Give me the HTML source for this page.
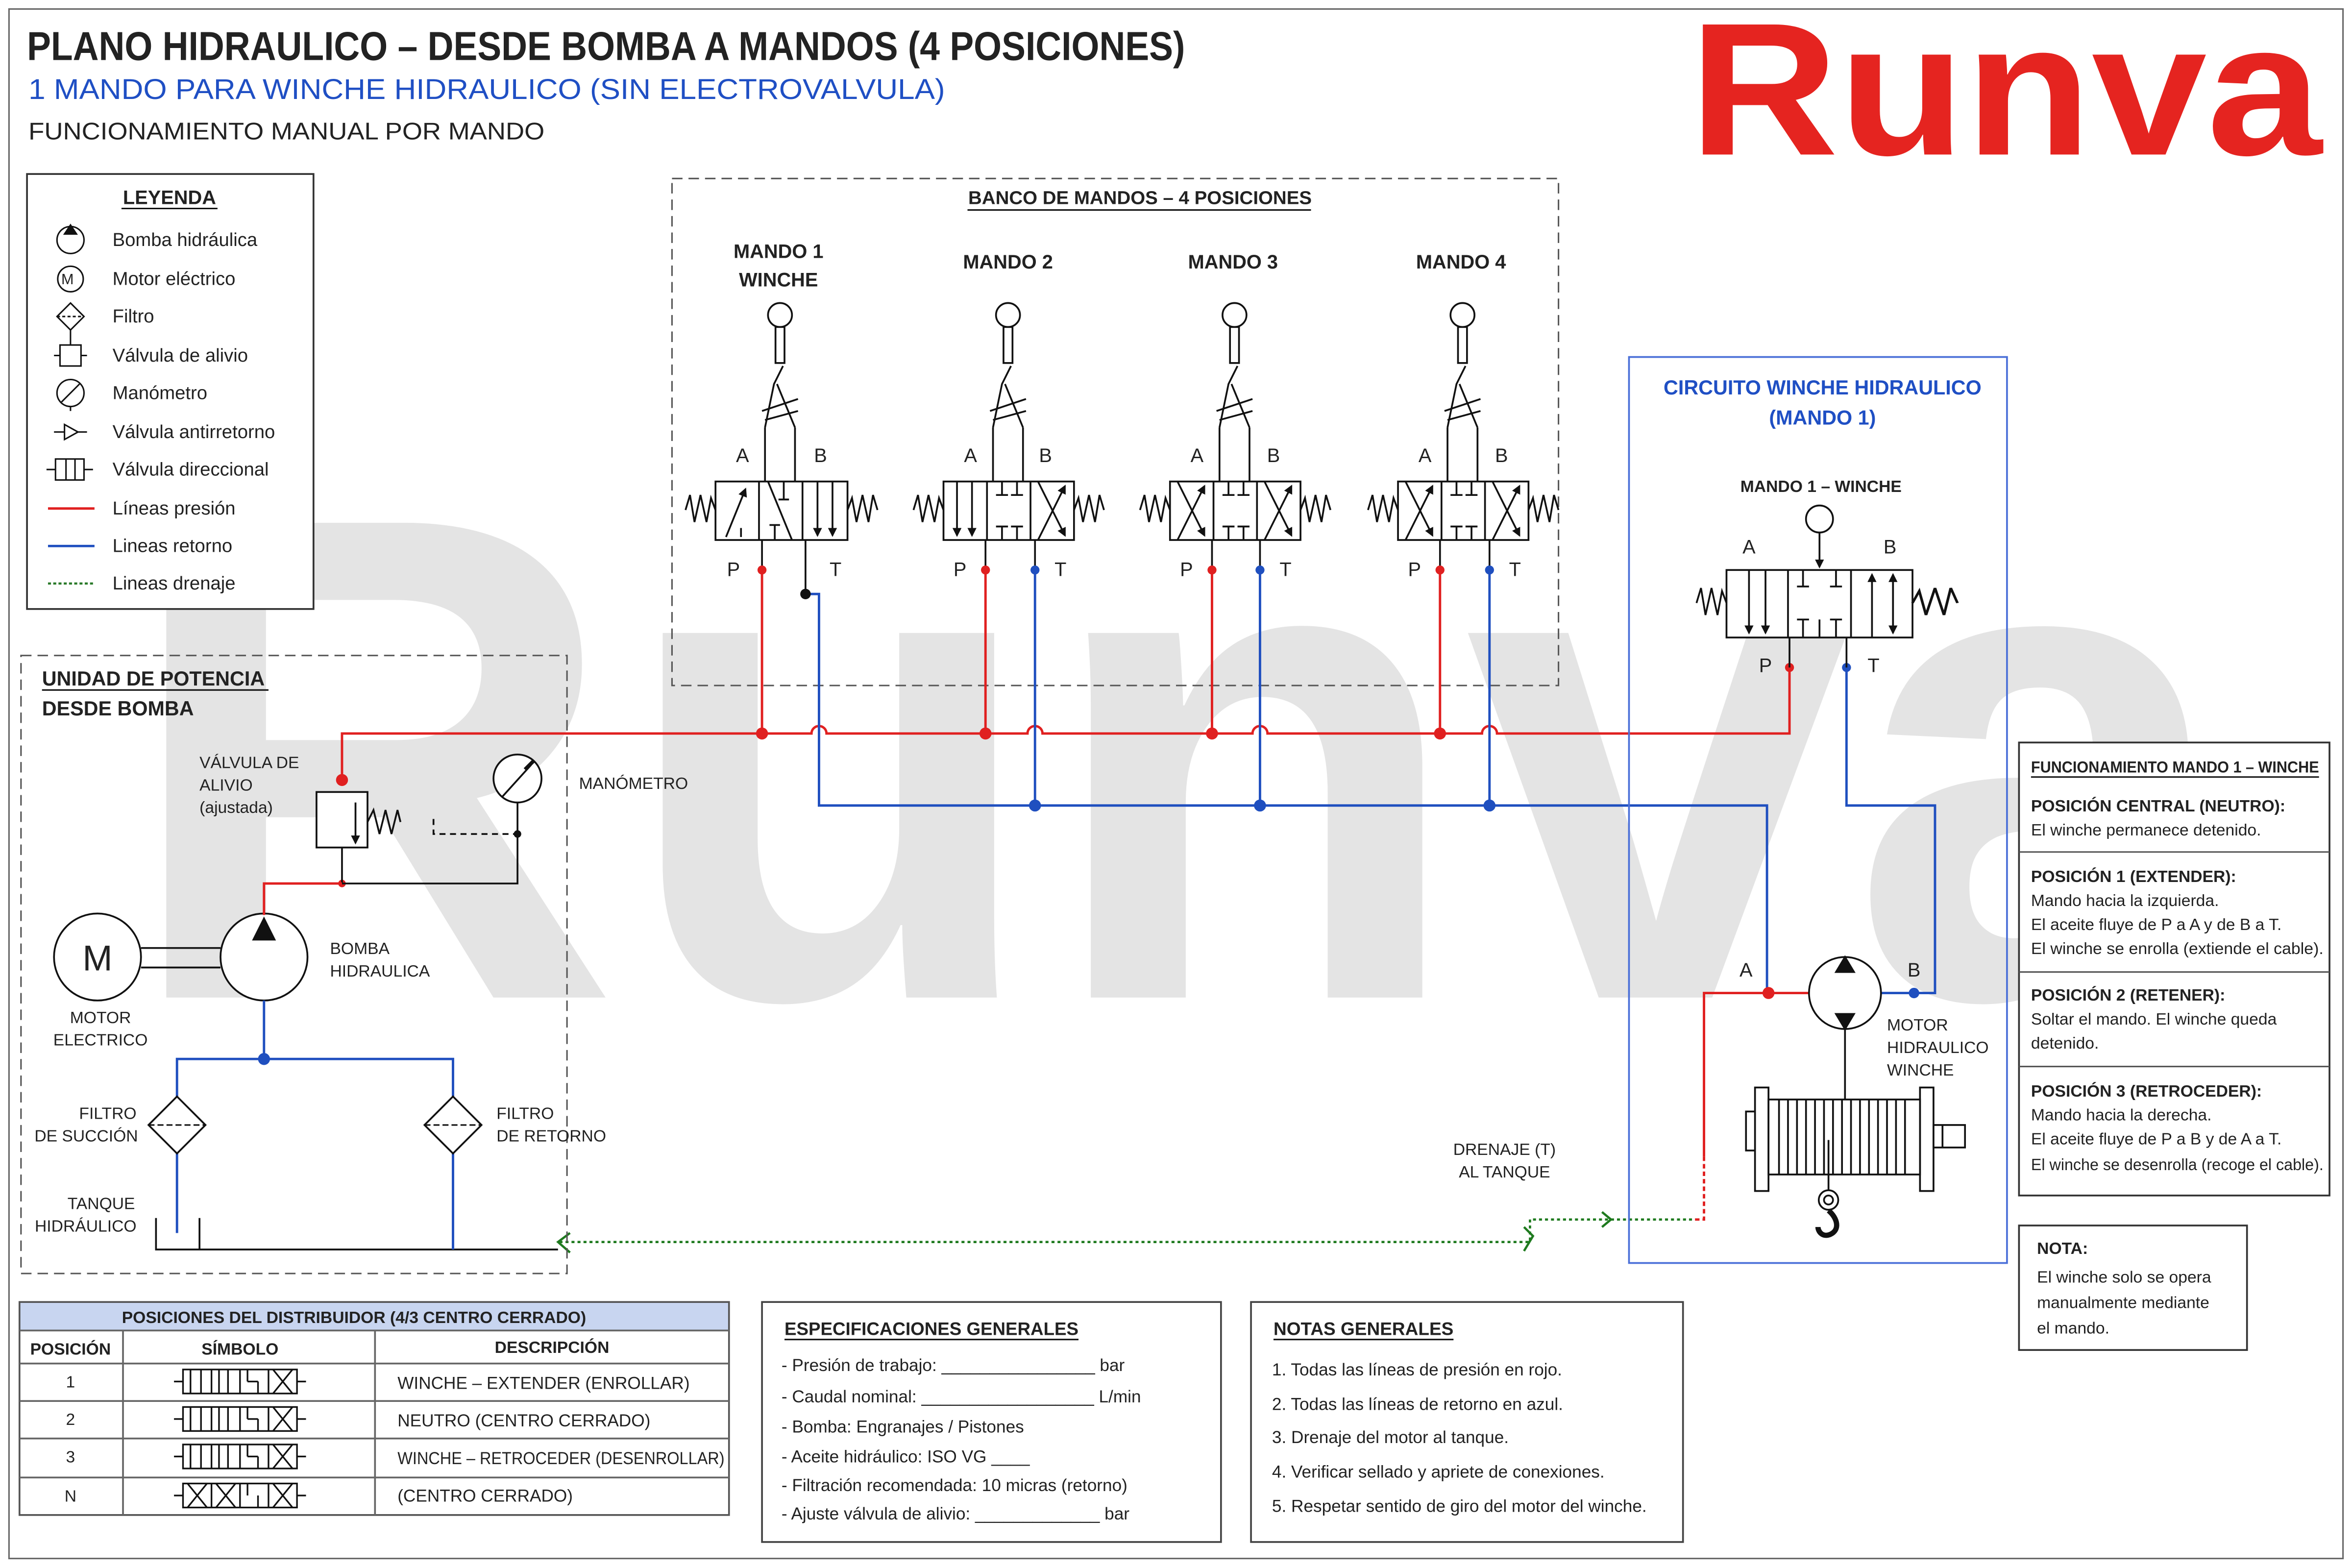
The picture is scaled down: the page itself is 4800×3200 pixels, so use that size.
<!DOCTYPE html>
<html><head><meta charset="utf-8"><style>
html,body{margin:0;padding:0;background:#fff;}
svg{display:block;}
text{font-family:"Liberation Sans",Arial,sans-serif;fill:#222;}
.b{font-weight:bold;}
</style></head><body>
<svg width="4800" height="3200" viewBox="0 0 1568 1045.33" xmlns="http://www.w3.org/2000/svg">
<defs>
<marker id="ah" markerWidth="6" markerHeight="6" refX="5" refY="3" orient="auto" markerUnits="userSpaceOnUse"><path d="M0,0 L6,3 L0,6 z" fill="#111"/></marker>
<g id="spL"><path d="M-20,0 L-17,-10 L-14,8 L-10,-10 L-6,8 L-3,-8 L0,0" fill="none" stroke="#111" stroke-width="1.2"/></g>
<g id="lever" fill="none" stroke="#111" stroke-width="1.2">
<circle cx="0" cy="0" r="8" fill="#fff"/>
<rect x="-3" y="8" width="6" height="24" fill="#fff"/>
<path d="M2,34 L-4,46 L-10,75 M-2,46 L10,75 M-12,64 L12,56 M-10,70 L12,64 M-10,75 L-10,111 M10,75 L10,111"/>
</g>
</defs>
<rect width="1568" height="1045.33" fill="#fff"/>
<!-- watermark -->
<text x="80" y="665" font-size="460" class="b" fill="#e4e4e4" style="fill:#e4e4e4" textLength="1410" lengthAdjust="spacingAndGlyphs">Runva</text>
<rect x="6" y="6" width="1556" height="1033" fill="none" stroke="#666" stroke-width="1"/>

<!-- header -->
<text x="18" y="40" font-size="27" class="b" textLength="772" lengthAdjust="spacingAndGlyphs">PLANO HIDRAULICO – DESDE BOMBA A MANDOS (4 POSICIONES)</text>
<text x="19" y="66" font-size="19" style="fill:#1f4fc4" textLength="611" lengthAdjust="spacingAndGlyphs">1 MANDO PARA WINCHE HIDRAULICO (SIN ELECTROVALVULA)</text>
<text x="19" y="93" font-size="16" textLength="344" lengthAdjust="spacingAndGlyphs">FUNCIONAMIENTO MANUAL POR MANDO</text>
<text x="1126" y="103" font-size="126" class="b" style="fill:#e52420" textLength="422" lengthAdjust="spacingAndGlyphs">Runva</text>

<!-- legend -->
<rect x="18" y="116" width="191" height="290" fill="#fff" stroke="#333" stroke-width="1.2"/>
<text x="113" y="136" font-size="13" class="b" text-anchor="middle">LEYENDA</text>
<line x1="81" y1="139" x2="145" y2="139" stroke="#111"/>
<g font-size="12.5">
<text x="75" y="164">Bomba hidráulica</text>
<text x="75" y="190">Motor eléctrico</text>
<text x="75" y="215">Filtro</text>
<text x="75" y="241">Válvula de alivio</text>
<text x="75" y="266">Manómetro</text>
<text x="75" y="292">Válvula antirretorno</text>
<text x="75" y="317">Válvula direccional</text>
<text x="75" y="343">Líneas presión</text>
<text x="75" y="368">Lineas retorno</text>
<text x="75" y="393">Lineas drenaje</text>
</g>
<g fill="none" stroke="#111" stroke-width="1">
<circle cx="47" cy="160" r="9"/><path d="M43,156 L47,150 L51,156z" fill="#111"/>
<circle cx="47" cy="186" r="8.5"/>
<path d="M47,202 L56,211 L47,220 L38,211z"/><line x1="38" y1="211" x2="56" y2="211" stroke-dasharray="2,1.5"/><line x1="47" y1="220" x2="47" y2="230"/>
<rect x="40" y="230" width="14" height="14"/><path d="M36,237 L40,237 M54,237 L58,237"/>
<circle cx="47" cy="262" r="9"/><path d="M41,268 L53,256 M47,271 L47,274"/>
<path d="M36,288 L43,288 M43,283 L52,288 L43,293z M52,288 L58,288"/>
<rect x="37" y="306" width="19" height="14"/><path d="M31,313 L37,313 M56,313 L62,313 M44,306 L44,320 M50,306 L50,320"/>
</g>
<line x1="32" y1="339" x2="63" y2="339" stroke="#e02020" stroke-width="1.6"/>
<line x1="32" y1="364" x2="63" y2="364" stroke="#1f4fbf" stroke-width="1.6"/>
<line x1="32" y1="389" x2="63" y2="389" stroke="#2a7a2a" stroke-width="1.4" stroke-dasharray="2,1.5"/>
<text x="45" y="189.5" font-size="10" text-anchor="middle">M</text>

<!-- bank dashed box -->
<rect x="448" y="119" width="591" height="338" fill="none" stroke="#555" stroke-width="1" stroke-dasharray="7,4"/>
<text x="760" y="136" font-size="12.5" class="b" text-anchor="middle" textLength="229" lengthAdjust="spacingAndGlyphs">BANCO DE MANDOS – 4 POSICIONES</text>
<line x1="645" y1="140" x2="874" y2="140" stroke="#111"/>
<g font-size="13" class="b" text-anchor="middle">
<text x="519" y="172" class="b">MANDO 1</text><text x="519" y="191" class="b">WINCHE</text>
<text x="672" y="179" class="b">MANDO 2</text>
<text x="822" y="179" class="b">MANDO 3</text>
<text x="974" y="179" class="b">MANDO 4</text>
</g>

<!-- valves -->
<g fill="none" stroke="#111" stroke-width="1.2">
<use href="#lever" x="520" y="210"/><use href="#lever" x="672" y="210"/><use href="#lever" x="823" y="210"/><use href="#lever" x="975" y="210"/>
<!-- Mando1 -->
<rect x="477" y="321" width="88" height="39" fill="#fff"/><path d="M506,321 V360 M535,321 V360"/>
<use href="#spL" x="477" y="340"/><use href="#spL" transform="translate(565,340) scale(-1,1)"/>
<path d="M484,358 L497,326" marker-end="url(#ah)"/><path d="M494,352 V358"/>
<path d="M512,321 L528,360 M519,333 H526 M522.5,321 V333 M513,350 H520 M516.5,350 V360"/>
<path d="M545,321 V357" marker-end="url(#ah)"/><path d="M555,321 V357" marker-end="url(#ah)"/>
<!-- Mando2 -->
<rect x="629" y="321" width="87" height="39" fill="#fff"/><path d="M658,321 V360 M687,321 V360"/>
<use href="#spL" x="629" y="340"/><use href="#spL" transform="translate(716,340) scale(-1,1)"/>
<path d="M638,321 V357" marker-end="url(#ah)"/><path d="M648,321 V357" marker-end="url(#ah)"/>
<path d="M668,321 V330 M664,330 H672 M678,321 V330 M674,330 H682 M668,360 V351 M664,351 H672 M678,360 V351 M674,351 H682"/>
<path d="M692,360 L710,324" marker-end="url(#ah)"/><path d="M692,321 L710,357" marker-end="url(#ah)"/>
<!-- Mando3 -->
<rect x="780" y="321" width="87" height="39" fill="#fff"/><path d="M809,321 V360 M838,321 V360"/>
<use href="#spL" x="780" y="340"/><use href="#spL" transform="translate(867,340) scale(-1,1)"/>
<path d="M785,360 L803,324" marker-end="url(#ah)"/><path d="M785,321 L803,357" marker-end="url(#ah)"/>
<path d="M819,321 V330 M815,330 H823 M829,321 V330 M825,330 H833 M819,360 V351 M815,351 H823 M829,360 V351 M825,351 H833"/>
<path d="M843,360 L861,324" marker-end="url(#ah)"/><path d="M843,321 L861,357" marker-end="url(#ah)"/>
<!-- Mando4 -->
<rect x="932" y="321" width="87" height="39" fill="#fff"/><path d="M961,321 V360 M990,321 V360"/>
<use href="#spL" x="932" y="340"/><use href="#spL" transform="translate(1019,340) scale(-1,1)"/>
<path d="M937,360 L955,324" marker-end="url(#ah)"/><path d="M937,321 L955,357" marker-end="url(#ah)"/>
<path d="M971,321 V330 M967,330 H975 M981,321 V330 M977,330 H985 M971,360 V351 M967,351 H975 M981,360 V351 M977,351 H985"/>
<path d="M995,360 L1013,324" marker-end="url(#ah)"/><path d="M995,321 L1013,357" marker-end="url(#ah)"/>
<!-- port stubs -->
<path d="M508,360 V380 M537,360 V396 M657,360 V380 M690,360 V380 M808,360 V380 M840,360 V380 M960,360 V380 M993,360 V380"/>
</g>
<g font-size="13" text-anchor="middle">
<text x="495" y="308">A</text><text x="547" y="308">B</text><text x="647" y="308">A</text><text x="697" y="308">B</text>
<text x="798" y="308">A</text><text x="849" y="308">B</text><text x="950" y="308">A</text><text x="1001" y="308">B</text>
<text x="489" y="384">P</text><text x="557" y="384">T</text><text x="640" y="384">P</text><text x="707" y="384">T</text>
<text x="791" y="384">P</text><text x="857" y="384">T</text><text x="943" y="384">P</text><text x="1010" y="384">T</text>
</g>

<!-- lines -->
<g fill="none" stroke-width="1.6">
<path stroke="#e02020" d="M508,380 V489 M657,380 V489 M808,380 V489 M960,380 V489"/>
<path stroke="#e02020" d="M228,520 V489 H541 a5,5 0 0 1 10,0 H685 a5,5 0 0 1 10,0 H835 a5,5 0 0 1 10,0 H988 a5,5 0 0 1 10,0 H1193 V445"/>
<path stroke="#1f4fbf" d="M537,396 H546 V537 H1178 V662 M690,380 V537 M840,380 V537 M993,380 V537"/>
<path stroke="#1f4fbf" d="M1231,445 V537 H1290 V662 H1254"/>
<path stroke="#e02020" d="M1206,662 H1136 V771"/>
<path stroke="#e02020" d="M1136,771 V813 H1128" stroke-dasharray="3,2"/>
</g>
<g fill="#e02020"><circle cx="508" cy="489" r="4"/><circle cx="657" cy="489" r="4"/><circle cx="808" cy="489" r="4"/><circle cx="960" cy="489" r="4"/>
<circle cx="508" cy="380" r="3"/><circle cx="657" cy="380" r="3"/><circle cx="808" cy="380" r="3"/><circle cx="960" cy="380" r="3"/><circle cx="1193" cy="445" r="3"/><circle cx="1179" cy="662" r="4"/><circle cx="228" cy="520" r="4"/><circle cx="228" cy="589" r="2.5"/></g>
<g fill="#1f4fbf"><circle cx="690" cy="537" r="4"/><circle cx="840" cy="537" r="4"/><circle cx="993" cy="537" r="4"/>
<circle cx="690" cy="380" r="3"/><circle cx="840" cy="380" r="3"/><circle cx="993" cy="380" r="3"/><circle cx="1231" cy="445" r="3"/><circle cx="1276" cy="662" r="3.5"/><circle cx="176" cy="706" r="4"/></g>
<circle cx="537" cy="396" r="3.5" fill="#111"/>
<!-- drain -->
<g fill="none" stroke="#1e7a1e" stroke-width="1.5">
<path d="M1128,813 H1020 V828 H372" stroke-dasharray="2,2"/>
<path d="M1068,808 L1074,813 L1068,818 M1016,818 L1022,824 L1016,834 M380,822 L372,828 L380,835"/>
</g>
<text x="1003" y="770" font-size="11" text-anchor="middle">DRENAJE (T)</text>
<text x="1003" y="785" font-size="11" text-anchor="middle">AL TANQUE</text>

<!-- winch circuit -->
<rect x="1086" y="238" width="252" height="604" fill="none" stroke="#4a6fd8" stroke-width="1.2"/>
<text x="1215" y="263" font-size="13.5" class="b" text-anchor="middle" style="fill:#1f4fc4">CIRCUITO WINCHE HIDRAULICO</text>
<text x="1215" y="283" font-size="13.5" class="b" text-anchor="middle" style="fill:#1f4fc4">(MANDO 1)</text>
<text x="1214" y="328" font-size="11" class="b" text-anchor="middle">MANDO 1 – WINCHE</text>
<g fill="none" stroke="#111" stroke-width="1.2">
<circle cx="1213" cy="346" r="9"/><path d="M1213,355 V378" marker-end="url(#ah)"/>
<rect x="1151" y="380" width="124" height="45" fill="#fff"/><path d="M1192,380 V425 M1234,380 V425"/>
<use href="#spL" x="1151" y="402"/><use href="#spL" transform="translate(1275,402) scale(-1,1) scale(1.5,1)"/>
<path d="M1166,380 V422" marker-end="url(#ah)"/><path d="M1177,380 V422" marker-end="url(#ah)"/>
<path d="M1202,380 V391 M1198,391 H1206 M1224,380 V391 M1220,391 H1228 M1202,425 V413 M1198,413 H1206 M1224,425 V413 M1220,413 H1228 M1213,425 V413"/>
<path d="M1248,425 V383" marker-end="url(#ah)"/><path d="M1262,422 V383" marker-end="url(#ah)"/><path d="M1262,383 V422" marker-end="url(#ah)"/>
<path d="M1193,425 V445 M1231,425 V445"/>
</g>
<g font-size="13" text-anchor="middle"><text x="1166" y="369">A</text><text x="1260" y="369">B</text><text x="1177" y="448">P</text><text x="1249" y="448">T</text>
<text x="1164" y="651">A</text><text x="1276" y="651">B</text></g>
<!-- motor -->
<g fill="none" stroke="#111" stroke-width="1.2">
<circle cx="1230" cy="662" r="24" fill="#fff"/>
<path d="M1224,648 L1230,638 L1236,648z M1224,676 L1230,686 L1236,676z" fill="#111"/>
<path d="M1230,686 V733"/>
<rect x="1170" y="725" width="9" height="69" fill="#fff"/><rect x="1280" y="725" width="9" height="69" fill="#fff"/>
<rect x="1179" y="733" width="101" height="50" fill="#fff"/>
<path d="M1186,733 V783 M1192,733 V783 M1198,733 V783 M1204,733 V783 M1210,733 V783 M1216,733 V783 M1222,733 V783 M1228,733 V783 M1234,733 V783 M1240,733 V783 M1246,733 V783 M1252,733 V783 M1258,733 V783 M1264,733 V783 M1270,733 V783"/>
<rect x="1164" y="741" width="6" height="26" fill="#fff"/><rect x="1289" y="750" width="21" height="15" fill="#fff"/><path d="M1295,750 V765"/>
<path d="M1219,760 V793"/><circle cx="1219" cy="800" r="6.5"/><circle cx="1219" cy="800" r="3"/>
<path d="M1219,807 C1225,812 1227,820 1220,823 C1215,825 1212,821 1212,818" stroke-width="3.5"/>
</g>
<g font-size="11"><text x="1258" y="687">MOTOR</text><text x="1258" y="702">HIDRAULICO</text><text x="1258" y="717">WINCHE</text></g>

<!-- funcionamiento box -->
<rect x="1346" y="495" width="207" height="302" fill="#fff" stroke="#333" stroke-width="1.2"/>
<text x="1354" y="515" font-size="10.5" class="b" textLength="192" lengthAdjust="spacingAndGlyphs">FUNCIONAMIENTO MANDO 1 – WINCHE</text>
<line x1="1354" y1="518" x2="1546" y2="518" stroke="#111"/>
<g stroke="#555" stroke-width="1"><line x1="1346" y1="568" x2="1553" y2="568"/><line x1="1346" y1="648" x2="1553" y2="648"/><line x1="1346" y1="711" x2="1553" y2="711"/></g>
<g font-size="11">
<text x="1354" y="541" class="b">POSICIÓN CENTRAL (NEUTRO):</text><text x="1354" y="557">El winche permanece detenido.</text>
<text x="1354" y="588" class="b">POSICIÓN 1 (EXTENDER):</text><text x="1354" y="604">Mando hacia la izquierda.</text><text x="1354" y="620">El aceite fluye de P a A y de B a T.</text><text x="1354" y="636" textLength="195" lengthAdjust="spacingAndGlyphs">El winche se enrolla (extiende el cable).</text>
<text x="1354" y="667" class="b">POSICIÓN 2 (RETENER):</text><text x="1354" y="683">Soltar el mando. El winche queda</text><text x="1354" y="699">detenido.</text>
<text x="1354" y="731" class="b">POSICIÓN 3 (RETROCEDER):</text><text x="1354" y="747">Mando hacia la derecha.</text><text x="1354" y="763">El aceite fluye de P a B y de A a T.</text><text x="1354" y="780" textLength="195" lengthAdjust="spacingAndGlyphs">El winche se desenrolla (recoge el cable).</text>
</g>
<rect x="1346" y="817" width="152" height="83" fill="#fff" stroke="#333" stroke-width="1.2"/>
<g font-size="11"><text x="1358" y="836" class="b">NOTA:</text><text x="1358" y="855">El winche solo se opera</text><text x="1358" y="872">manualmente mediante</text><text x="1358" y="889">el mando.</text></g>

<!-- power unit -->
<rect x="14" y="437" width="364" height="412" fill="none" stroke="#555" stroke-width="1" stroke-dasharray="7,4"/>
<text x="28" y="457" font-size="13.5" class="b">UNIDAD DE POTENCIA</text>
<line x1="28" y1="460" x2="179" y2="460" stroke="#111"/>
<text x="28" y="477" font-size="13.5" class="b">DESDE BOMBA</text>
<g font-size="11">
<text x="133" y="512">VÁLVULA DE</text><text x="133" y="527">ALIVIO</text><text x="133" y="542">(ajustada)</text>
<text x="386" y="526">MANÓMETRO</text>
<text x="220" y="636">BOMBA</text><text x="220" y="651">HIDRAULICA</text>
<text x="67" y="682" text-anchor="middle">MOTOR</text><text x="67" y="697" text-anchor="middle">ELECTRICO</text>
<text x="91" y="746" text-anchor="end">FILTRO</text><text x="92" y="761" text-anchor="end">DE SUCCIÓN</text>
<text x="331" y="746">FILTRO</text><text x="331" y="761">DE RETORNO</text>
<text x="90" y="806" text-anchor="end">TANQUE</text><text x="91" y="821" text-anchor="end">HIDRÁULICO</text>
</g>
<g fill="none" stroke="#111" stroke-width="1.2">
<rect x="211" y="528" width="34" height="37" fill="#fff"/><path d="M237,535 V562" marker-end="url(#ah)"/>
<path d="M245,548 L249,540 L253,556 L257,540 L261,556 L265,540 L267,548"/>
<path d="M289,546 V556 H345" stroke-dasharray="4,3"/>
<circle cx="345" cy="519" r="16" fill="#fff"/><path d="M335,531 L354,510" /><path d="M350,513 L356,507" stroke-width="2.5"/>
<path d="M345,535 V589 H228 M228,565 V589"/>
<circle cx="65" cy="638" r="29" fill="#fff"/><circle cx="176" cy="638" r="29" fill="#fff"/>
<path d="M94,632 H147 M94,645 H147"/>
<path d="M104,812 V833 H372 M133,812 V833"/>
</g>
<circle cx="345" cy="556" r="2.5" fill="#111"/>
<path d="M168,627 L176,611 L184,627z" fill="#111"/>
<text x="65" y="647" font-size="24" text-anchor="middle">M</text>
<g fill="none" stroke-width="1.6">
<path stroke="#e02020" d="M228,589 H176 V610"/>
<path stroke="#1f4fbf" d="M176,667 V706 M118,731 V706 H302 V731 M118,769 V822 M302,769 V833"/>
</g>
<g fill="#fff" stroke="#111" stroke-width="1.2">
<path d="M118,731 L137,750 L118,769 L99,750z"/><path d="M302,731 L321,750 L302,769 L283,750z"/>
</g>
<g stroke="#111" stroke-width="1" stroke-dasharray="4,2"><line x1="99" y1="750" x2="137" y2="750"/><line x1="283" y1="750" x2="321" y2="750"/></g>

<!-- positions table -->
<rect x="13" y="868" width="473" height="19" fill="#c8d5f0"/>
<rect x="13" y="868" width="473" height="142" fill="none" stroke="#555" stroke-width="1.2"/>
<text x="236" y="882" font-size="11" class="b" text-anchor="middle">POSICIONES DEL DISTRIBUIDOR (4/3 CENTRO CERRADO)</text>
<g stroke="#666" stroke-width="1.2"><line x1="13" y1="887" x2="486" y2="887"/><line x1="13" y1="909" x2="486" y2="909"/><line x1="13" y1="934" x2="486" y2="934"/><line x1="13" y1="959" x2="486" y2="959"/><line x1="13" y1="985" x2="486" y2="985"/><line x1="82" y1="887" x2="82" y2="1010"/><line x1="250" y1="887" x2="250" y2="1010"/></g>
<g font-size="11" text-anchor="middle">
<text x="47" y="903" class="b">POSICIÓN</text><text x="160" y="903" class="b">SÍMBOLO</text><text x="368" y="902" class="b">DESCRIPCIÓN</text>
<text x="47" y="925">1</text><text x="47" y="950">2</text><text x="47" y="975">3</text><text x="47" y="1001">N</text>
</g>
<g font-size="11.5"><text x="265" y="926">WINCHE – EXTENDER (ENROLLAR)</text><text x="265" y="951">NEUTRO (CENTRO CERRADO)</text><text x="265" y="976" textLength="218" lengthAdjust="spacingAndGlyphs">WINCHE – RETROCEDER (DESENROLLAR)</text><text x="265" y="1001">(CENTRO CERRADO)</text></g>
<g fill="none" stroke="#111" stroke-width="1.1">
<g id="ts"><rect x="122" y="913" width="76" height="16"/><path d="M141,913 V929 M160,913 V929 M179,913 V929 M116,921 H122 M198,921 H204 M127,913 V929 M134,913 V929 M146,913 V929 M152,913 V929 M165,913 V921 M172,921 V929 M165,921 H172 M182,929 L195,913 M182,913 L195,929"/></g>
<use href="#ts" y="25"/><use href="#ts" y="50"/>
<rect x="122" y="989" width="76" height="16"/><path d="M141,989 V1005 M160,989 V1005 M179,989 V1005 M116,997 H122 M198,997 H204 M125,989 L138,1005 M125,1005 L138,989 M144,989 L157,1005 M144,1005 L157,989 M165,989 V997 M172,997 V1005 M182,1005 L195,989 M182,989 L195,1005"/>
</g>

<!-- specs -->
<rect x="508" y="868" width="306" height="160" fill="#fff" stroke="#444" stroke-width="1.2"/>
<text x="523" y="890" font-size="12" class="b" textLength="196" lengthAdjust="spacingAndGlyphs">ESPECIFICACIONES GENERALES</text>
<line x1="523" y1="893" x2="719" y2="893" stroke="#111"/>
<g font-size="11.5">
<text x="521" y="914">- Presión de trabajo: ________________ bar</text>
<text x="521" y="935">- Caudal nominal: __________________ L/min</text>
<text x="521" y="955">- Bomba: Engranajes / Pistones</text>
<text x="521" y="975">- Aceite hidráulico: ISO VG ____</text>
<text x="521" y="994">- Filtración recomendada: 10 micras (retorno)</text>
<text x="521" y="1013">- Ajuste válvula de alivio: _____________ bar</text>
</g>
<rect x="834" y="868" width="288" height="160" fill="#fff" stroke="#444" stroke-width="1.2"/>
<text x="849" y="890" font-size="12" class="b" textLength="120" lengthAdjust="spacingAndGlyphs">NOTAS GENERALES</text>
<line x1="849" y1="893" x2="969" y2="893" stroke="#111"/>
<g font-size="11.5">
<text x="848" y="917">1. Todas las líneas de presión en rojo.</text>
<text x="848" y="940">2. Todas las líneas de retorno en azul.</text>
<text x="848" y="962">3. Drenaje del motor al tanque.</text>
<text x="848" y="985">4. Verificar sellado y apriete de conexiones.</text>
<text x="848" y="1008">5. Respetar sentido de giro del motor del winche.</text>
</g>
</svg>
</body></html>
